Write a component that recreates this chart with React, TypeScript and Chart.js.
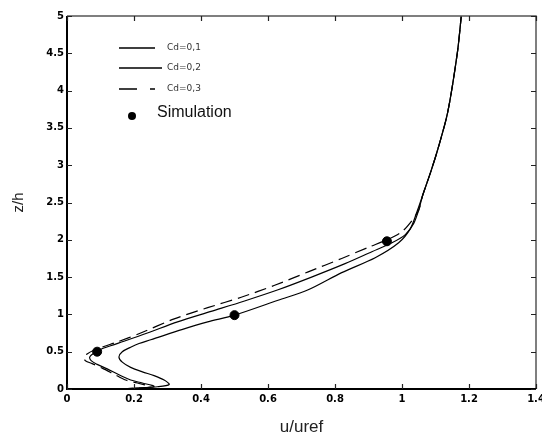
import React, { useEffect, useRef } from "react";
import { Chart, registerables } from "chart.js";

Chart.register(...registerables);

// ---- data ----
const xTickValues = [0, 0.2, 0.4, 0.6, 0.8, 1, 1.2, 1.4];
const yTickValues = [0, 0.5, 1, 1.5, 2, 2.5, 3, 3.5, 4, 4.5, 5];

const cd01U = [0, 0.12, 0.2, 0.27, 0.305, 0.29, 0.26, 0.225, 0.19, 0.165, 0.155, 0.165, 0.19, 0.215, 0.25, 0.345, 0.42, 0.5, 0.63, 0.72, 0.82, 0.92, 0.99, 1.025, 1.045, 1.062, 1.085, 1.106, 1.136, 1.165, 1.177];
const cd01Z = [0, 0, 0.01, 0.03, 0.06, 0.12, 0.18, 0.23, 0.29, 0.36, 0.43, 0.5, 0.56, 0.61, 0.66, 0.8, 0.9, 0.99, 1.19, 1.33, 1.56, 1.76, 1.96, 2.15, 2.38, 2.6, 2.9, 3.2, 3.7, 4.5, 5];

const cd02U = [0, 0.12, 0.2, 0.26, 0.225, 0.19, 0.155, 0.12, 0.09, 0.072, 0.068, 0.08, 0.1, 0.13, 0.17, 0.24, 0.33, 0.43, 0.53, 0.63, 0.73, 0.83, 0.91, 0.97, 1.01, 1.035, 1.05, 1.062, 1.085, 1.106, 1.136, 1.165, 1.177];
const cd02Z = [0, 0, 0.01, 0.035, 0.08, 0.12, 0.19, 0.27, 0.33, 0.38, 0.43, 0.48, 0.53, 0.58, 0.64, 0.75, 0.9, 1.04, 1.18, 1.33, 1.5, 1.68, 1.84, 1.96, 2.07, 2.22, 2.4, 2.6, 2.9, 3.2, 3.7, 4.5, 5];

const cd03U = [0, 0.12, 0.2, 0.25, 0.21, 0.175, 0.14, 0.105, 0.075, 0.055, 0.05, 0.06, 0.08, 0.11, 0.15, 0.22, 0.32, 0.42, 0.52, 0.62, 0.72, 0.82, 0.9, 0.96, 1.0, 1.03, 1.05, 1.062, 1.085, 1.106, 1.136, 1.165, 1.177];
const cd03Z = [0, 0, 0.01, 0.03, 0.08, 0.12, 0.2, 0.28, 0.34, 0.38, 0.42, 0.47, 0.52, 0.57, 0.63, 0.75, 0.94, 1.09, 1.23, 1.39, 1.57, 1.75, 1.9, 2.01, 2.11, 2.26, 2.4, 2.6, 2.9, 3.2, 3.7, 4.5, 5];

const simU = [0.09, 0.5, 0.955];
const simZ = [0.5, 0.99, 1.98];

const legendLabels = ["Cd=0,1", "Cd=0,2", "Cd=0,3", "Simulation"];

const toPts = (u: number[], z: number[]) => u.map((v, i) => ({ x: v, y: z[i] }));
const fmt = (v: number) => String(Math.round(v * 10) / 10);

const frameAndLegend = {
  id: "frameAndLegend",
  afterDraw(chart: any) {
    const { ctx, chartArea: a, scales } = chart;
    const xs = scales.x;
    const ys = scales.y;
    ctx.save();
    // frame
    ctx.strokeStyle = "#555";
    ctx.lineWidth = 1.5;
    ctx.beginPath();
    ctx.moveTo(a.left, a.top);
    ctx.lineTo(a.right, a.top);
    ctx.lineTo(a.right, a.bottom);
    ctx.stroke();
    ctx.strokeStyle = "#000";
    ctx.lineWidth = 2;
    ctx.beginPath();
    ctx.moveTo(a.left, a.top);
    ctx.lineTo(a.left, a.bottom);
    ctx.lineTo(a.right, a.bottom);
    ctx.stroke();
    // inner ticks
    ctx.lineWidth = 1.2;
    ctx.strokeStyle = "#222";
    const tl = 5;
    ctx.beginPath();
    xTickValues.forEach((v) => {
      const px = Math.round(xs.getPixelForValue(v)) + 0.5;
      ctx.moveTo(px, a.bottom);
      ctx.lineTo(px, a.bottom - tl);
      ctx.moveTo(px, a.top);
      ctx.lineTo(px, a.top + tl);
    });
    yTickValues.forEach((v) => {
      const py = Math.round(ys.getPixelForValue(v)) + 0.5;
      ctx.moveTo(a.left, py);
      ctx.lineTo(a.left + tl, py);
      ctx.moveTo(a.right, py);
      ctx.lineTo(a.right - tl, py);
    });
    ctx.stroke();

    // legend
    ctx.strokeStyle = "#000";
    ctx.lineWidth = 1.3;
    ctx.setLineDash([]);
    ctx.beginPath();
    ctx.moveTo(119, 48);
    ctx.lineTo(155, 48);
    ctx.moveTo(119, 68);
    ctx.lineTo(162, 68);
    ctx.moveTo(119, 89);
    ctx.lineTo(137, 89);
    ctx.moveTo(150, 89);
    ctx.lineTo(155, 89);
    ctx.stroke();
    ctx.fillStyle = "#000";
    ctx.beginPath();
    ctx.arc(132, 116, 4, 0, Math.PI * 2);
    ctx.fill();
    ctx.fillStyle = "#333";
    ctx.font = "9px 'DejaVu Sans'";
    ctx.textBaseline = "middle";
    ctx.textAlign = "left";
    ctx.fillText(legendLabels[0], 167, 48);
    ctx.fillText(legendLabels[1], 167, 68);
    ctx.fillText(legendLabels[2], 167, 89);
    ctx.fillStyle = "#111";
    ctx.font = "16px 'Liberation Sans'";
    ctx.fillText(legendLabels[3], 157, 113);
    ctx.restore();
  },
};

export default function App() {
  const ref = useRef<HTMLCanvasElement | null>(null);
  useEffect(() => {
    if (!ref.current) return;
    const tickFont = { family: "'DejaVu Sans'", size: 10, weight: "bold" as const };
    const lineBase = {
      showLine: true,
      borderColor: "#000",
      borderWidth: 1.2,
      pointRadius: 0,
      tension: 0.3,
    };
    const chart = new Chart(ref.current, {
      type: "scatter",
      data: {
        datasets: [
          {
            label: "Simulation",
            data: toPts(simU, simZ),
            pointRadius: 4.5,
            pointBackgroundColor: "#000",
            pointBorderColor: "#000",
            showLine: false,
          },
          { label: "Cd=0,1", data: toPts(cd01U, cd01Z), ...lineBase },
          { label: "Cd=0,2", data: toPts(cd02U, cd02Z), ...lineBase },
          { label: "Cd=0,3", data: toPts(cd03U, cd03Z), ...lineBase, borderDash: [12, 6] },
        ],
      },
      options: {
        animation: false,
        responsive: false,
        devicePixelRatio: 1,
        layout: { padding: { left: 0, top: 16, right: 24, bottom: 0 } },
        plugins: { legend: { display: false }, tooltip: { enabled: false } },
        scales: {
          x: {
            type: "linear",
            min: 0,
            max: 1.4,
            afterBuildTicks: (s: any) => {
              s.ticks = xTickValues.map((v) => ({ value: v }));
            },
            afterFit: (s: any) => {
              s.height = 50;
            },
            ticks: {
              callback: (v: any) => fmt(Number(v)),
              font: tickFont,
              color: "#000",
              padding: 4,
              maxRotation: 0,
              autoSkip: false,
            },
            grid: { display: false, drawTicks: false },
            border: { display: false },
            title: {
              display: true,
              text: "u/uref",
              font: { family: "'Liberation Sans'", size: 17 },
              color: "#222",
              padding: { top: 0, bottom: 1 },
            },
          },
          y: {
            type: "linear",
            min: 0,
            max: 5,
            afterBuildTicks: (s: any) => {
              s.ticks = yTickValues.map((v) => ({ value: v }));
            },
            afterFit: (s: any) => {
              s.width = 67;
            },
            ticks: {
              callback: (v: any) => fmt(Number(v)),
              font: tickFont,
              color: "#000",
              padding: 3,
              autoSkip: false,
            },
            grid: { display: false, drawTicks: false },
            border: { display: false },
            title: {
              display: true,
              text: "z/h",
              font: { family: "'Liberation Sans'", size: 15 },
              color: "#222",
              padding: { top: 10, bottom: 0 },
            },
          },
        },
      },
      plugins: [frameAndLegend],
    });
    return () => chart.destroy();
  }, []);
  return (
    <div
      style={{
        position: "fixed",
        left: 0,
        top: 0,
        width: 542,
        height: 439,
        overflow: "hidden",
        background: "#fff",
      }}
    >
      <canvas ref={ref} width={560} height={439} style={{ display: "block" }} />
    </div>
  );
}
